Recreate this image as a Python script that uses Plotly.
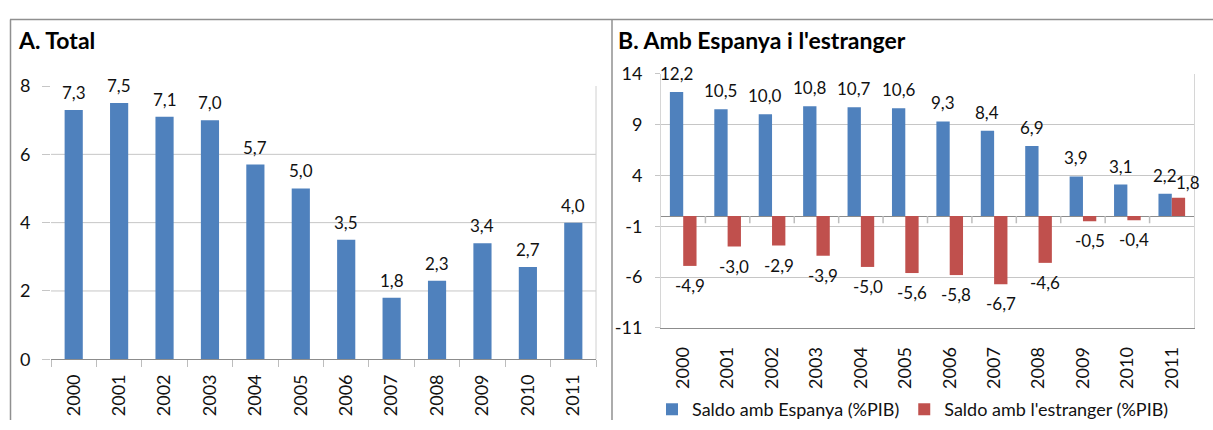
import plotly.graph_objects as go

# ---------------- data ----------------
years = ["2000", "2001", "2002", "2003", "2004", "2005",
         "2006", "2007", "2008", "2009", "2010", "2011"]
total = [7.3, 7.5, 7.1, 7.0, 5.7, 5.0, 3.5, 1.8, 2.3, 3.4, 2.7, 4.0]
saldo_espanya = [12.2, 10.5, 10.0, 10.8, 10.7, 10.6, 9.3, 8.4, 6.9, 3.9, 3.1, 2.2]
saldo_estranger = [-4.9, -3.0, -2.9, -3.9, -5.0, -5.6, -5.8, -6.7, -4.6, -0.5, -0.4, 1.8]
left_ticks = [0, 2, 4, 6, 8]
right_ticks = [-11, -6, -1, 4, 9, 14]
title_a = "A. Total"
title_b = "B. Amb Espanya i l'estranger"
name_espanya = "Saldo amb Espanya (%PIB)"
name_estranger = "Saldo amb l'estranger (%PIB)"

# ---------------- layout constants (pixels) ----------------
W, H = 1213, 430
L_X0, L_X1, L_Y0, L_Y1 = 51, 596, 78, 366      # left plot area (top, bottom)
R_X0, R_X1, R_Y0, R_Y1 = 661, 1194, 65, 333    # right plot area

def px(x):
    return x / W

def py(y):
    return 1 - y / H

BLUE = "#4F81BD"
RED = "#C0504D"
GRID = "#C6C6C6"
AXIS = "#8C8C8C"
FRAME = "#909090"
FONT = "Lato, 'Open Sans', sans-serif"
TXT = "#111111"

def fmt(v):
    return f"{v:.1f}".replace(".", ",")

n = len(years)
cat_range = [-0.5, n - 0.5]

fig = go.Figure()

# Left panel bars
fig.add_trace(go.Bar(x=years, y=total, marker_color=BLUE, marker_line_width=0, width=0.4,
                     xaxis="x", yaxis="y", showlegend=False, hoverinfo="skip"))

# Right panel bars
fig.add_trace(go.Bar(x=years, y=saldo_espanya, name=name_espanya, marker_color=BLUE,
                     marker_line_width=0, xaxis="x2", yaxis="y2", hoverinfo="skip"))
fig.add_trace(go.Bar(x=years, y=saldo_estranger, name=name_estranger, marker_color=RED,
                     marker_line_width=0, xaxis="x2", yaxis="y2", hoverinfo="skip"))

annotations = []
shapes = []

# Titles
annotations.append(dict(text="<b>" + title_a + "</b>", xref="paper", yref="paper",
                        x=px(16), y=py(29), xanchor="left", yanchor="middle",
                        showarrow=False, font=dict(family=FONT, size=23, color="#000")))
annotations.append(dict(text="<b>" + title_b + "</b>", xref="paper", yref="paper",
                        x=px(616), y=py(29), xanchor="left", yanchor="middle",
                        showarrow=False, font=dict(family=FONT, size=23, color="#000")))

# Data labels, left (x given as category index)
for i, v in enumerate(total):
    annotations.append(dict(text=fmt(v), x=i, y=v, xref="x", yref="y",
                            xanchor="center", yanchor="bottom", yshift=5,
                            showarrow=False, font=dict(family=FONT, size=17, color=TXT)))

# Data labels, right (grouped bars: offset by a quarter of the group width)
bargap_r = 0.4
half = (1 - bargap_r) / 4
for i, (a, b) in enumerate(zip(saldo_espanya, saldo_estranger)):
    for v, sgn in ((a, -1), (b, 1)):
        extra = 0
        if i == n - 1 and sgn == 1 and a > 0 and b > 0:
            extra = 10  # pushed aside to avoid overlap
        pos = v >= 0
        annotations.append(dict(text=fmt(v), x=i + sgn * half, y=v, xref="x2", yref="y2",
                                xanchor="center",
                                yanchor="bottom" if pos else "top",
                                xshift=extra,
                                yshift=(6 if pos else -7) - (3 if extra else 0),
                                showarrow=False,
                                font=dict(family=FONT, size=17, color=TXT)))

# Left panel gridlines (not at the top value)
for t in left_ticks[1:-1]:
    shapes.append(dict(type="line", xref="x domain", yref="y", x0=0, x1=1, y0=t, y1=t,
                       line=dict(color=GRID, width=1), layer="below"))
# Left panel right border
shapes.append(dict(type="line", xref="x domain", yref="y domain", x0=1, x1=1, y0=0, y1=1,
                   line=dict(color="#D0D0D0", width=1), layer="below"))

# Right panel small ticks on zero line at category boundaries
for i in range(n - 1):
    shapes.append(dict(type="line", xref="x2", yref="y2", x0=i + 0.5, x1=i + 0.5,
                       y0=0, y1=-0.7, line=dict(color="#BDBDBD", width=1.5), layer="above"))

# Outer frame lines
shapes.append(dict(type="line", xref="paper", yref="paper", x0=px(10), x1=1, y0=py(8), y1=py(8),
                   line=dict(color=FRAME, width=1.5)))
shapes.append(dict(type="line", xref="paper", yref="paper", x0=px(10.5), x1=px(10.5), y0=py(8), y1=0,
                   line=dict(color=FRAME, width=1.5)))
shapes.append(dict(type="line", xref="paper", yref="paper", x0=px(612), x1=px(612), y0=py(8), y1=0,
                   line=dict(color=FRAME, width=1.5)))

fig.update_layout(
    width=W, height=H,
    margin=dict(l=0, r=0, t=0, b=0),
    paper_bgcolor="white", plot_bgcolor="white",
    barmode="group",
    bargap=bargap_r, bargroupgap=0,
    font=dict(family=FONT, size=17, color=TXT),
    xaxis=dict(domain=[px(L_X0), px(L_X1)], anchor="y", type="category",
               range=cat_range, autorange=False,
               showgrid=False, showline=True, linecolor=AXIS, linewidth=1,
               ticks="outside", tickson="boundaries", ticklen=7, tickcolor="#BDBDBD",
               tickangle=-90, tickfont=dict(family=FONT, size=18, color=TXT),
               ticklabelstandoff=7),
    yaxis=dict(domain=[py(L_Y1), py(L_Y0)], anchor="x", range=[left_ticks[0], left_ticks[-1]],
               autorange=False,
               tickvals=left_ticks, ticktext=[str(t) for t in left_ticks],
               showgrid=False, zeroline=False, showline=False,
               ticks="outside", ticklen=8, tickcolor=GRID,
               tickfont=dict(family=FONT, size=18, color=TXT), ticklabelstandoff=8),
    xaxis2=dict(domain=[px(R_X0), px(R_X1)], anchor="y2", type="category",
                range=cat_range, autorange=False,
                showgrid=False, showline=True, linecolor=AXIS, linewidth=1,
                ticks="", tickangle=-90, tickfont=dict(family=FONT, size=18, color=TXT),
                ticklabelstandoff=11),
    yaxis2=dict(domain=[py(R_Y1), py(R_Y0)], anchor="x2",
                range=[right_ticks[0], right_ticks[-1]], autorange=False,
                tickvals=right_ticks, ticktext=[str(t) for t in right_ticks],
                showgrid=True, gridcolor=GRID, gridwidth=1,
                zeroline=True, zerolinecolor=AXIS, zerolinewidth=1.2,
                showline=True, mirror=True, linecolor="#D6D6D6", linewidth=1,
                ticks="outside", ticklen=5, tickcolor=GRID,
                tickfont=dict(family=FONT, size=18, color=TXT), ticklabelstandoff=9),
    legend=dict(orientation="h", x=px(652), y=py(419), xanchor="left", yanchor="middle",
                font=dict(family=FONT, size=18, color=TXT), itemwidth=30,
                bgcolor="rgba(0,0,0,0)", tracegroupgap=0),
    annotations=annotations,
    shapes=shapes,
)

fig.write_html(
    "out.html",
    config={"responsive": False, "displayModeBar": False},
    post_script="document.body.style.margin='0';document.body.style.overflow='hidden';",
)
